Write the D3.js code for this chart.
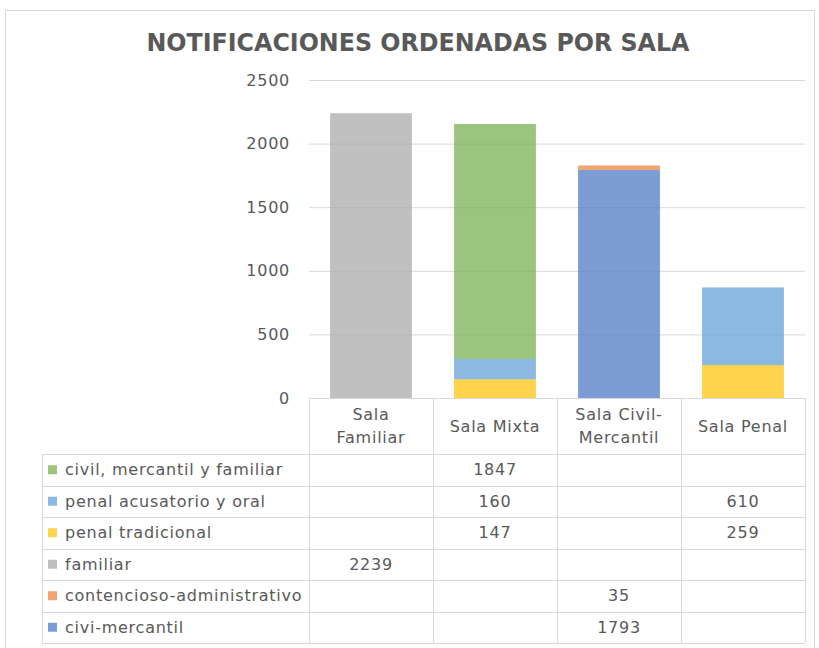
<!DOCTYPE html>
<html>
<head>
	<meta charset='utf-8'>
	<title>Notificaciones por sala</title>
	<script src='https://cdn.jsdelivr.net/npm/d3@7'></script>
	<style>
		body { margin: 0; background: #fff; }
		text { font-family: 'DejaVu Sans', Verdana, sans-serif; }
		.lbl { font-size: 16px; letter-spacing: 0.75px; fill: #595959; }
	</style>
</head>
<body>
	<svg width='819' height='648'></svg>
	<script>
		// datos
		const salas = ['Sala Familiar', 'Sala Mixta', 'Sala Civil-Mercantil', 'Sala Penal']
		const salaLines = [['Sala', 'Familiar'], ['Sala Mixta'], ['Sala Civil-', 'Mercantil'], ['Sala Penal']]
		// series en el orden de la tabla (arriba -> abajo)
		const series = ['civil, mercantil y familiar', 'penal acusatorio y oral', 'penal tradicional', 'familiar', 'contencioso-administrativo', 'civi-mercantil']
		const colores = ['#70AD47', '#5B9BD5', '#FFC000', '#A5A5A5', '#ED7D31', '#4472C4']
		const civilMercantilFamiliar = [null, 1847, null, null]
		const penalAcusatorio = [null, 160, null, 610]
		const penalTradicional = [null, 147, null, 259]
		const familiar = [2239, null, null, null]
		const contencioso = [null, null, 35, null]
		const civiMercantil = [null, null, 1793, null]
		const valores = [civilMercantilFamiliar, penalAcusatorio, penalTradicional, familiar, contencioso, civiMercantil]
		const yTicks = [0, 500, 1000, 1500, 2000, 2500]

		const svg = d3.select('svg')
		const plot = { left: 309, right: 805, top: 80, bottom: 398 }
		const tabla = { left: 42, headerBottom: 454, rowH: 31.5 }

		// marco
		svg.append('rect').attr('x', 5.5).attr('y', 10.5).attr('width', 809).attr('height', 660)
			.attr('fill', '#fff').attr('stroke', '#d9d9d9')

		// titulo
		svg.append('text').attr('x', 418).attr('y', 51).attr('text-anchor', 'middle')
			.style('font-family', "'Liberation Sans Narrow', 'DejaVu Sans Condensed', sans-serif")
			.attr('font-weight', 'bold').attr('font-size', 25).attr('fill', '#595959')
			.attr('textLength', 543).attr('lengthAdjust', 'spacingAndGlyphs')
			.text('NOTIFICACIONES ORDENADAS POR SALA')

		const x = d3.scaleBand().domain(salas).range([plot.left, plot.right]).paddingInner(0.34).paddingOuter(0.17)
		const y = d3.scaleLinear().domain([0, 2500]).range([plot.bottom, plot.top])

		// lineas de cuadricula
		svg.append('g').selectAll('line').data(yTicks.slice(1)).join('line')
			.attr('x1', plot.left).attr('x2', plot.right)
			.attr('y1', d => y(d) + 0.5).attr('y2', d => y(d) + 0.5)
			.attr('stroke', '#d9d9d9')

		svg.append('g').selectAll('text').data(yTicks).join('text')
			.attr('class', 'lbl')
			.attr('x', 290).attr('y', d => y(d)).attr('dy', '0.35em')
			.attr('text-anchor', 'end')
			.text(d => d)

		// apilado: la ultima fila de la tabla queda abajo
		const rows = salas.map((s, i) => {
			const o = { sala: s }
			series.forEach((k, j) => o[k] = valores[j][i] || 0)
			return o
		})
		const stackKeys = series.slice().reverse()
		const stacked = d3.stack().keys(stackKeys)(rows)
		const color = d3.scaleOrdinal().domain(series).range(colores)

		svg.append('g').selectAll('g').data(stacked).join('g')
			.attr('fill', d => color(d.key)).attr('fill-opacity', 0.7)
			.selectAll('rect').data(d => d).join('rect')
			.attr('x', d => x(d.data.sala))
			.attr('width', x.bandwidth())
			.attr('y', d => y(d[1]))
			.attr('height', d => y(d[0]) - y(d[1]))

		// tabla de datos
		const colEdges = salas.map(s => x(s) - x.step() * x.paddingInner() / 2)
		colEdges.push(plot.right)
		const gT = svg.append('g').attr('stroke', '#d9d9d9').attr('fill', 'none')
		const tableBottom = tabla.headerBottom + series.length * tabla.rowH
		// encabezado
		gT.append('line').attr('x1', plot.left).attr('x2', plot.right).attr('y1', plot.bottom + 0.5).attr('y2', plot.bottom + 0.5)
		colEdges.forEach(cx => {
			gT.append('line').attr('x1', Math.round(cx) + 0.5).attr('x2', Math.round(cx) + 0.5)
				.attr('y1', plot.bottom).attr('y2', tableBottom)
		})
		gT.append('line').attr('x1', tabla.left + 0.5).attr('x2', tabla.left + 0.5).attr('y1', tabla.headerBottom).attr('y2', tableBottom)
		d3.range(series.length + 1).forEach(i => {
			const yy = Math.round(tabla.headerBottom + i * tabla.rowH) + 0.5
			gT.append('line').attr('x1', tabla.left).attr('x2', plot.right).attr('y1', yy).attr('y2', yy)
		})

		salas.forEach((s, i) => {
			const cx = (colEdges[i] + colEdges[i + 1]) / 2
			const lines = salaLines[i]
			const midY = (plot.bottom + tabla.headerBottom) / 2
			lines.forEach((t, j) => {
				svg.append('text').attr('class', 'lbl').attr('x', cx)
					.attr('y', midY + (j - (lines.length - 1) / 2) * 23)
					.attr('dy', '0.35em').attr('text-anchor', 'middle').text(t)
			})
		})

		series.forEach((k, j) => {
			const cy = tabla.headerBottom + (j + 0.5) * tabla.rowH
			svg.append('rect').attr('x', 48).attr('y', cy - 4.5).attr('width', 9).attr('height', 9)
				.attr('fill', color(k)).attr('fill-opacity', 0.7)
			svg.append('text').attr('class', 'lbl').attr('x', 65).attr('y', cy).attr('dy', '0.35em').text(k)
			valores[j].forEach((v, i) => {
				if (v == null) return
				svg.append('text').attr('class', 'lbl')
					.attr('x', (colEdges[i] + colEdges[i + 1]) / 2).attr('y', cy).attr('dy', '0.35em')
					.attr('text-anchor', 'middle').text(v)
			})
		})
	</script>
</body>
</html>
